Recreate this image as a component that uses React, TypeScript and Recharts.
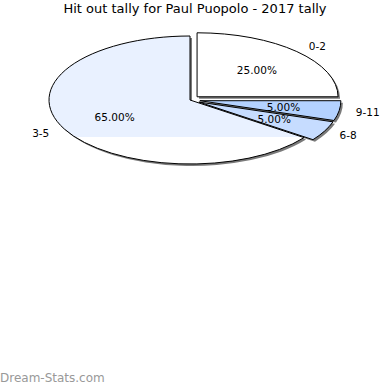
import React from 'react';
import { PieChart, Pie, Cell } from 'recharts';

const categories = ['0-2', '9-11', '6-8', '3-5'];
const tallies = [5, 1, 1, 13];
const sliceColors = ['#ffffff', '#b4d2ff', '#c6dcff', 'url(#lowerWhite)'];
const explodeBy: Record<string, number> = { '0-2': 10, '9-11': 10, '6-8': 10, '3-5': 0 };

const data = categories.map((name, i) => ({ name, value: tallies[i] }));

const K = 64 / 141; // vertical squash of the pie
const RAD = Math.PI / 180;
const FONT = '"DejaVu Sans", sans-serif';

const offsetFor = (name: string, mid: number) => {
    const e = explodeBy[name] || 0;
    return { ox: e * Math.cos(mid * RAD), oy: -e * Math.sin(mid * RAD) * K };
};

const ellipseSector = (shadow: boolean) => (props: any) => {
    const { cx, cy, outerRadius: r, startAngle, endAngle, fill, name, payload } = props;
    const mid = (startAngle + endAngle) / 2;
    const { ox, oy } = offsetFor(name ?? payload?.name, mid);
    const x0 = cx + r * Math.cos(startAngle * RAD);
    const y0 = cy - r * K * Math.sin(startAngle * RAD);
    const x1 = cx + r * Math.cos(endAngle * RAD);
    const y1 = cy - r * K * Math.sin(endAngle * RAD);
    const large = Math.abs(startAngle - endAngle) > 180 ? 1 : 0;
    const sweep = startAngle > endAngle ? 1 : 0;
    const d = `M${cx},${cy} L${x0},${y0} A${r},${r * K} 0 ${large} ${sweep} ${x1},${y1} Z`;
    const tx = ox + (shadow ? 2 : 0);
    const ty = oy + (shadow ? 2 : 0);
    return (
        <path
            d={d}
            transform={`translate(${tx},${ty})`}
            fill={shadow ? '#7a7a7a' : fill}
            stroke={shadow ? 'none' : '#000'}
            strokeWidth={1}
        />
    );
};

const renderLabel = (props: any) => {
    const { cx, cy, midAngle, outerRadius: r, percent, name } = props;
    const { ox, oy } = offsetFor(name, midAngle);
    const c = Math.cos(midAngle * RAD);
    const s = Math.sin(midAngle * RAD);
    const px = cx + ox + r * 0.6 * c;
    const py = cy + oy - r * 0.6 * s * K;
    const nx = cx + ox + r * 1.12 * c;
    const ny = cy + oy - r * 1.12 * s * K;
    return (
        <g>
            <text x={px} y={py} textAnchor="middle" dominantBaseline="central" fontSize={10.5} fontFamily={FONT} fill="#000">
                {(percent * 100).toFixed(2)}%
            </text>
            <text x={nx} y={ny} textAnchor={c >= 0 ? 'start' : 'end'} dominantBaseline="central" fontSize={10.5} fontFamily={FONT} fill="#000">
                {name}
            </text>
        </g>
    );
};

export default function App() {
    return (
        <div style={{ position: 'absolute', left: 0, top: 0, width: 390, height: 390, background: '#fff' }}>
            <svg width={0} height={0} style={{ position: 'absolute' }}>
                <defs>
                    <linearGradient id="lowerWhite" gradientUnits="userSpaceOnUse" x1={0} y1={0} x2={0} y2={390}>
                        <stop offset={137 / 390} stopColor="#e9f1ff" />
                        <stop offset={137 / 390} stopColor="#ffffff" />
                    </linearGradient>
                </defs>
            </svg>
            <div style={{ position: 'absolute', top: 1, width: 390, textAlign: 'center', fontFamily: FONT, fontSize: 13, color: '#000' }}>
                Hit out tally for Paul Puopolo - 2017 tally
            </div>
            <PieChart width={390} height={390} margin={{ top: 0, right: 0, bottom: 0, left: 0 }}>
                <Pie
                    data={data}
                    dataKey="value"
                    nameKey="name"
                    cx={190}
                    cy={100}
                    outerRadius={141}
                    startAngle={90}
                    endAngle={-270}
                    isAnimationActive={false}
                    shape={ellipseSector(true)}
                    inactiveShape={ellipseSector(true)}
                    activeShape={ellipseSector(true)}
                    label={false}
                    labelLine={false}
                >
                    {data.map((d) => <Cell key={d.name} fill="#7a7a7a" />)}
                </Pie>
                <Pie
                    data={data}
                    dataKey="value"
                    nameKey="name"
                    cx={190}
                    cy={100}
                    outerRadius={141}
                    startAngle={90}
                    endAngle={-270}
                    isAnimationActive={false}
                    shape={ellipseSector(false)}
                    inactiveShape={ellipseSector(false)}
                    activeShape={ellipseSector(false)}
                    label={renderLabel}
                    labelLine={false}
                >
                    {data.map((d, i) => <Cell key={d.name} fill={sliceColors[i]} />)}
                </Pie>
            </PieChart>
            <div style={{ position: 'absolute', left: 0, top: 371, fontFamily: FONT, fontSize: 12, color: '#999' }}>
                Dream-Stats.com
            </div>
        </div>
    );
}
